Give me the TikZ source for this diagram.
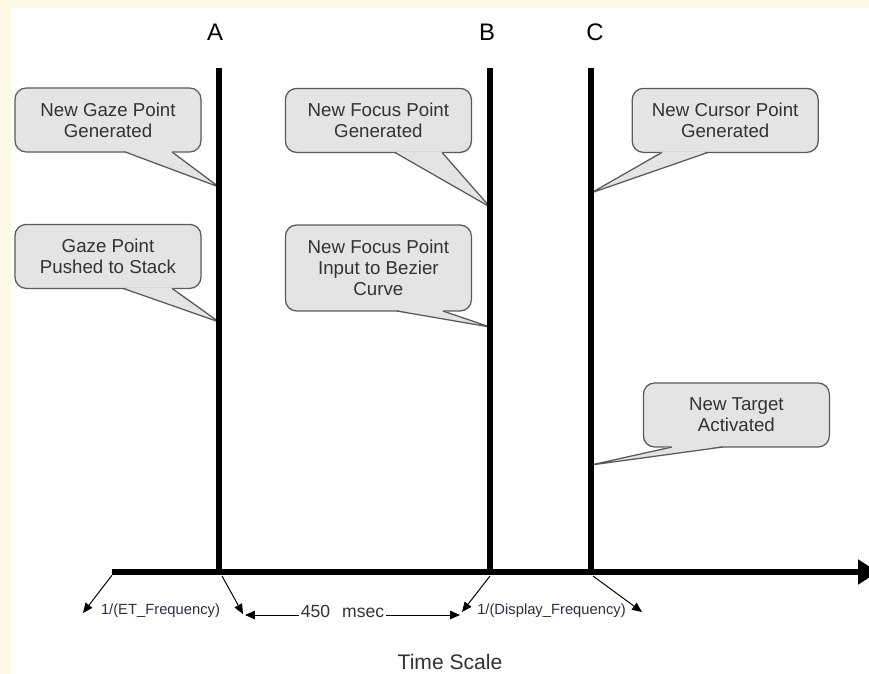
\documentclass[tikz,border=0pt]{standalone}
\usepackage{fontspec}
\setmainfont{Liberation Sans}
\usetikzlibrary{arrows.meta}
\definecolor{cream}{HTML}{FEF9E7}
\definecolor{notegray}{HTML}{E4E4E4}
\definecolor{noteedge}{HTML}{5A5A5A}
\definecolor{notetext}{HTML}{333333}
\definecolor{freqtext}{HTML}{2E2E48}
\begin{document}
\begin{tikzpicture}[
  notebox/.style={draw=noteedge, fill=notegray, line width=0.9pt, rounded corners=8pt, outer sep=0pt,
    align=center, text=notetext, font=\fontsize{13.3}{15}\selectfont, minimum width=4.65cm, minimum height=1.6cm, inner sep=2pt},
  tailline/.style={draw=noteedge, line width=0.9pt, line join=round},
  tline/.style={line width=3.6pt},
  letter/.style={font=\fontsize{17}{20}\selectfont},
  freqarrow/.style={-{Triangle[length=7pt,width=6pt]}, line width=0.7pt},
  freq/.style={font=\fontsize{10.5}{12}\selectfont, text=freqtext, inner sep=1pt}]
\useasboundingbox (0,0) rectangle (21.725,16.85);
\fill[cream] (0,0) rectangle (21.725,16.85);
\fill[white] (0.275,0) rectangle (21.725,16.65);

\node[letter] (lA) at (5.375,16.05) {A};
\node[letter] (lB) at (12.175,16.05) {B};
\node[letter] (lC) at (14.875,16.05) {C};

\coordinate (Atop) at (5.475,15.15);
\coordinate (Abot) at (5.475,2.55);
\coordinate (Btop) at (12.25,15.15);
\coordinate (Bbot) at (12.25,2.55);
\coordinate (Ctop) at (14.775,15.15);
\coordinate (Cbot) at (14.775,2.55);
\coordinate (a1) at (5.475,12.175);
\coordinate (a2) at (5.475,8.8);
\coordinate (b1) at (12.25,11.675);
\coordinate (b2) at (12.25,8.675);
\coordinate (c1) at (14.775,12.025);
\coordinate (c2) at (14.775,5.225);

\node[notebox] (gaze) at (2.7,13.85) {New Gaze Point\\Generated};
\node[notebox] (stack) at (2.7,10.44) {Gaze Point\\Pushed to Stack};
\node[notebox] (focus) at (9.46,13.84) {New Focus Point\\Generated};
\node[notebox, minimum height=2.15cm] (bezier) at (9.46,10.15) {New Focus Point\\Input to Bezier\\Curve};
\node[notebox] (cursor) at (18.13,13.84) {New Cursor Point\\Generated};
\node[notebox] (target) at (18.41,6.475) {New Target\\Activated};

\fill[notegray] ([xshift=0.43cm,yshift=0.6pt]gaze.south) -- (a1) -- ([xshift=1.6cm,yshift=0.6pt]gaze.south) -- cycle;
\draw[tailline] ([xshift=0.43cm]gaze.south) -- (a1) -- ([xshift=1.6cm]gaze.south);
\fill[notegray] ([xshift=0.38cm,yshift=0.6pt]stack.south) -- (a2) -- ([xshift=1.6cm,yshift=0.6pt]stack.south) -- cycle;
\draw[tailline] ([xshift=0.38cm]stack.south) -- (a2) -- ([xshift=1.6cm]stack.south);
\fill[notegray] ([xshift=0.41cm,yshift=0.6pt]focus.south) -- (b1) -- ([xshift=1.59cm,yshift=0.6pt]focus.south) -- cycle;
\draw[tailline] ([xshift=0.41cm]focus.south) -- (b1) -- ([xshift=1.59cm]focus.south);
\fill[notegray] ([xshift=0.46cm,yshift=0.6pt]bezier.south) -- (b2) -- ([xshift=1.61cm,yshift=0.6pt]bezier.south) -- cycle;
\draw[tailline] ([xshift=0.46cm]bezier.south) -- (b2) -- ([xshift=1.61cm]bezier.south);
\fill[notegray] ([xshift=-1.58cm,yshift=0.6pt]cursor.south) -- (c1) -- ([xshift=-0.43cm,yshift=0.6pt]cursor.south) -- cycle;
\draw[tailline] ([xshift=-1.58cm]cursor.south) -- (c1) -- ([xshift=-0.43cm]cursor.south);
\fill[notegray] ([xshift=-1.61cm,yshift=0.6pt]target.south) -- (c2) -- ([xshift=-0.34cm,yshift=0.6pt]target.south) -- cycle;
\draw[tailline] ([xshift=-1.61cm]target.south) -- (c2) -- ([xshift=-0.34cm]target.south);

\draw[tline] (Atop) -- (Abot);
\draw[tline] (Btop) -- (Bbot);
\draw[tline] (Ctop) -- (Cbot);

\coordinate (t0) at (2.8,2.55);
\coordinate (t1) at (21.95,2.55);
\draw[line width=4.25pt, -{Triangle[length=0.5cm,width=0.6cm]}] (t0) -- (t1);

\node[freq] (etf) at (4.0125,1.575) {1/(ET\_Frequency)};
\node[freq] (dispf) at (13.7875,1.575) {1/(Display\_Frequency)};
\node[anchor=base, inner sep=1pt, font=\fontsize{12.5}{15}\selectfont, text=notetext] (msec) at (8.5625,1.4) {450\hspace{0.3cm}msec};

\coordinate (s0) at (2.8,2.47);
\coordinate (s1) at (2.075,1.525);
\coordinate (s2) at (5.55,2.45);
\coordinate (s3) at (6.075,1.5);
\coordinate (s4) at (12.25,2.45);
\coordinate (s5) at (11.55,1.55);
\coordinate (s6) at (14.825,2.45);
\coordinate (s7) at (16.05,1.55);
\coordinate (s8) at (6.125,1.475);
\coordinate (s9) at (11.5,1.475);
\draw[freqarrow] (s0) -- (s1);
\draw[freqarrow] (s2) -- (s3);
\draw[freqarrow] (s4) -- (s5);
\draw[freqarrow] (s6) -- (s7);
\draw[freqarrow] (msec.west |- s8) -- (s8);
\draw[freqarrow] (msec.east |- s9) -- (s9);

\node[font=\fontsize{15}{18}\selectfont, text=notetext] (scale) at (11.25,0.3) {Time Scale};
\end{tikzpicture}
\end{document}
